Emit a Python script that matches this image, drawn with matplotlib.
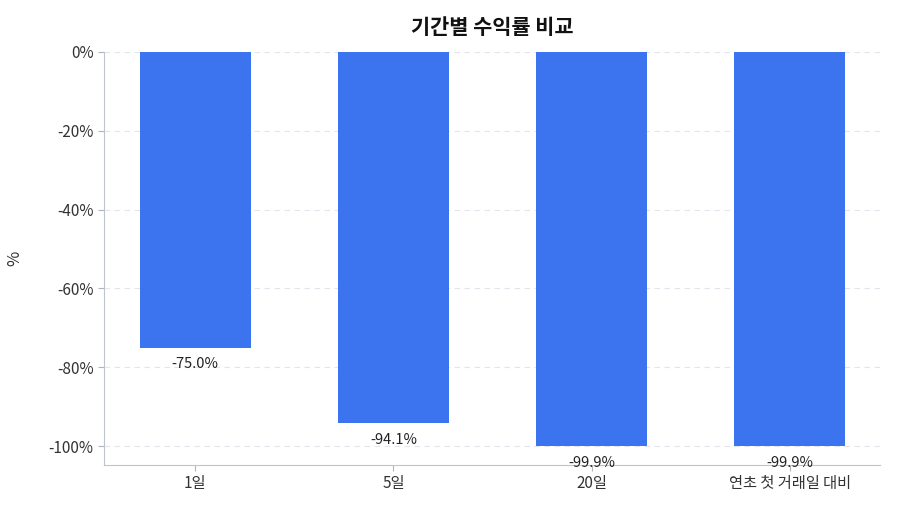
import matplotlib
matplotlib.use("Agg")
import matplotlib.pyplot as plt

categories = ["1일", "5일", "20일", "연초 첫 거래일 대비"]
values = [-75.0, -94.1, -99.9, -99.9]
labels = ["-75.0%", "-94.1%", "-99.9%", "-99.9%"]
yticks = [0, -20, -40, -60, -80, -100]

plt.rcParams['font.family'] = ['Noto Sans CJK KR', 'DejaVu Sans']
fig = plt.figure(figsize=(9, 5.14), dpi=100)
ax = fig.add_axes([104/900, 1-465/514, 776/900, 413/514])
x = list(range(len(categories)))
ax.bar(x, values, width=0.56, color="#3b74ee", zorder=2)
for xi, v, l in zip(x, values, labels):
    ax.text(xi, v - 2.5, l, ha="center", va="top", fontsize=10.5, color="#222222")
ax.set_xlim(-0.46, 3.455)
ax.set_ylim(-104.8, 0)
ax.set_yticks(yticks)
ax.set_yticklabels([f"{t}%" for t in yticks])
ax.set_xticks(x)
ax.set_xticklabels(categories)
ax.tick_params(colors="#333333", labelsize=11, length=4)
ax.tick_params(axis="both", color="#b0b4bc")
ax.grid(axis="y", linestyle=(0, (5, 4)), color="#e2e6ec", zorder=0)
for s in ["top", "right"]:
    ax.spines[s].set_visible(False)
for s in ["left", "bottom"]:
    ax.spines[s].set_color("#c0c4cc")
ax.set_ylabel("%", fontsize=12, color="#333333", labelpad=18)
fig.text(492/900, 1-28/514, "기간별 수익률 비교", ha="center", va="center", fontsize=15, fontweight="bold", color="#111111")
fig.savefig("out.png", dpi=100)
